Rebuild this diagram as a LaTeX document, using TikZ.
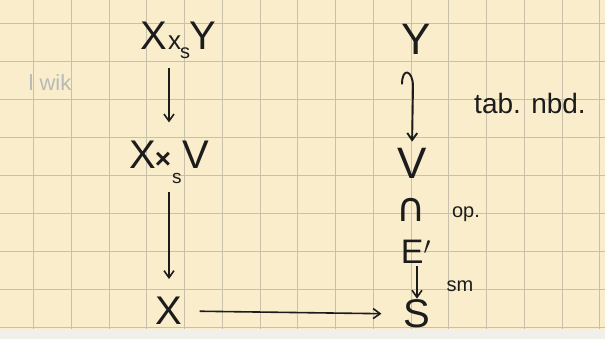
\documentclass[tikz,border=0pt]{standalone}
\usepackage{fontspec}
\setmainfont{Liberation Sans}
\newfontfamily\djfont{DejaVu Sans}
\usetikzlibrary{arrows.meta}
\definecolor{paper}{RGB}{249,237,203}
\definecolor{gridc}{RGB}{200,192,170}
\definecolor{ink}{RGB}{28,28,28}
\definecolor{strip}{RGB}{241,239,233}
\begin{document}
\begin{tikzpicture}[x=1pt,y=-1pt,
  big/.style={font=\fontsize{40}{40}\selectfont, text=ink, inner sep=0pt},
  lbl/.style={font=\fontsize{20}{20}\selectfont, text=ink, inner sep=0pt},
  arr/.style={draw=ink, line width=1.6pt, -{Straight Barb[length=7pt,width=10pt]}},
]
\useasboundingbox (0,0) rectangle (605,339);
\fill[paper] (0,0) rectangle (605,329);
\fill[strip] (0,329) rectangle (605,339);
\foreach \i in {0,...,15} \draw[gridc, line width=0.6pt] ({33.3+37.75*\i},0) -- ({33.3+37.75*\i},329);
\foreach \j in {0,...,8} \draw[gridc, line width=0.6pt] (0,{23+38*\j}) -- (605,{23+38*\j});

% left column
\node[big] (XY) at (178,40) {X\kern1pt{\fontsize{26}{26}\selectfont x}\kern-1pt\raisebox{-9pt}{\fontsize{20}{20}\selectfont s}\kern-1pt Y};
\node[big] (XV) at (169,162) {X\kern-1pt{\fontsize{28}{28}\selectfont\bfseries ×}\kern1pt\raisebox{-15pt}{\fontsize{19}{19}\selectfont s}\kern0.5pt V};
\node[big] (X) at (169,311) {X};

% right column
\node[big, font=\fontsize{44}{44}\selectfont] (Y) at (416,39) {Y};
\node[big, font=\fontsize{44}{44}\selectfont] (V) at (412,163) {V};
\node[text=ink, inner sep=0pt, font=\djfont\fontsize{40}{40}\selectfont] (cap) at (411,210) {∩};
\node[big, font=\fontsize{34}{34}\selectfont] (E) at (416,252) {E$'$};
\node[big] (S) at (417,314) {S};

% labels
\node[lbl, font=\fontsize{28}{28}\selectfont] (tab) at (530,103) {tab. nbd.};
\node[lbl] (op) at (466,214) {op.};
\node[lbl] (sm) at (460,286) {sm};
\node[lbl, font=\fontsize{22}{22}\selectfont, text=gray!55] (wik) at (50,83) {l wik};

% connectors
\draw[arr, shorten <=9pt, shorten >=18pt] (XY.south -| X) -- (XV.north -| X);
\draw[arr, shorten <=8pt, shorten >=18pt] (XV.south -| X) -- (X.north);
\draw[arr, shorten <=17pt, shorten >=22pt] (X.east) -- (S.west);
\draw[arr, line width=1.9pt, shorten >=6pt] (Y.south -| V) ++(-10,30) .. controls +(0,-18) and +(0,-16) .. ++(11,2) -- (V.north);
\draw[arr, shorten <=2pt, shorten >=1pt] (E.south -| S) -- (S.north);
\end{tikzpicture}
\end{document}
